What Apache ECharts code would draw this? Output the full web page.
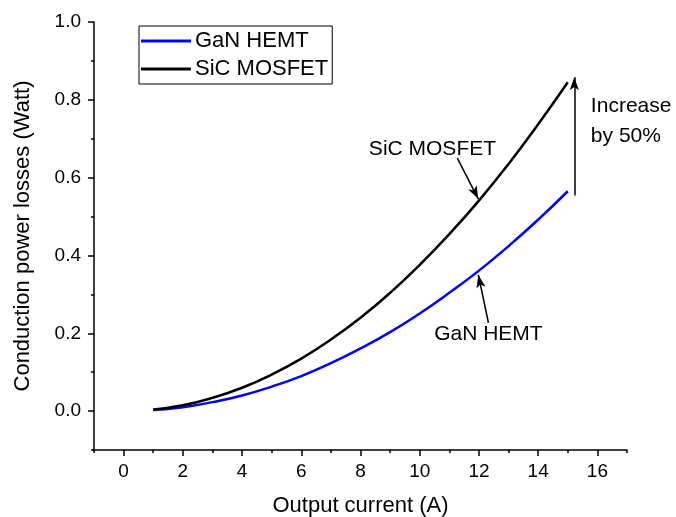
<!DOCTYPE html>
<html>
<head>
    <meta charset="utf-8"/>
    <script src="https://cdn.jsdelivr.net/npm/echarts@6/dist/echarts.min.js"></script>
</head>
<body style="margin:0">
<div id="main" style="width: 676px;height:517px;"></div>
<script type="text/javascript">
    // 数据：输出电流 vs 导通损耗
    var current = [1, 2, 3, 4, 5, 6, 7, 8, 9, 10, 11, 12, 13, 14, 15];
    var ganLoss = [0.003, 0.010, 0.023, 0.040, 0.063, 0.090, 0.123, 0.161, 0.203, 0.251, 0.304, 0.361, 0.424, 0.492, 0.565];
    var sicLoss = [0.004, 0.015, 0.034, 0.060, 0.094, 0.135, 0.184, 0.240, 0.304, 0.376, 0.455, 0.541, 0.635, 0.737, 0.845];
    var xLabels = [0, 2, 4, 6, 8, 10, 12, 14, 16];
    var yLabels = [0, 0.2, 0.4, 0.6, 0.8, 1.0];

    var font = 'Liberation Sans';

    function pairs(xs, ys) {
        return xs.map(function (x, i) { return [x, ys[i]]; });
    }

    var myChart = echarts.init(document.getElementById('main'));

    var option = {
        animation: false,
        textStyle: {fontFamily: font},
        grid: {left: 94, right: 49, top: 22, bottom: 67, outerBoundsMode: 'none'},
        legend: {
            left: 139, top: 26,
            orient: 'vertical',
            itemGap: 6,
            itemWidth: 50,
            itemHeight: 3,
            padding: [4, 4, 4, 2],
            borderColor: '#000',
            borderWidth: 1,
            textStyle: {fontSize: 22, color: '#000', fontFamily: font, padding: [0, 0, 0, -1]},
            data: [
                {name: 'GaN HEMT', icon: 'rect'},
                {name: 'SiC MOSFET', icon: 'rect'}
            ]
        },
        xAxis: [{
            type: 'value', min: -1, max: 17, interval: 1,
            name: 'Output current (A)', nameLocation: 'middle', nameGap: 45,
            nameTextStyle: {fontSize: 22, color: '#000', fontFamily: font},
            axisLine: {onZero: false, lineStyle: {color: '#000', width: 1.5}},
            axisTick: {length: 6, customValues: xLabels, lineStyle: {color: '#000', width: 1.5}},
            axisLabel: {customValues: xLabels, fontSize: 19, color: '#000', margin: 12},
            splitLine: {show: false}
        }, {
            type: 'value', min: -1, max: 17, interval: 1, position: 'bottom',
            axisLine: {show: false, onZero: false},
            axisTick: {length: 3, lineStyle: {color: '#000', width: 1.5}},
            axisLabel: {show: false},
            splitLine: {show: false}
        }],
        yAxis: [{
            type: 'value', min: -0.1, max: 1.0, interval: 0.1,
            name: 'Conduction power losses (Watt)', nameLocation: 'middle', nameGap: 60,
            nameTextStyle: {fontSize: 22, color: '#000', fontFamily: font},
            axisLine: {show: true, onZero: false, lineStyle: {color: '#000', width: 1.5}},
            axisTick: {show: true, length: 6, customValues: yLabels, lineStyle: {color: '#000', width: 1.5}},
            axisLabel: {
                customValues: yLabels, fontSize: 19, color: '#000', margin: 13,
                formatter: function (v) { return v.toFixed(1); }
            },
            splitLine: {show: false}
        }, {
            type: 'value', min: -0.1, max: 1.0, interval: 0.1, position: 'left',
            axisLine: {show: false, onZero: false},
            axisTick: {show: true, length: 3, lineStyle: {color: '#000', width: 1.5}},
            axisLabel: {show: false},
            splitLine: {show: false}
        }],
        series: [
            {
                name: 'GaN HEMT', type: 'line', smooth: true, symbol: 'none',
                color: '#0000ff', lineStyle: {width: 2.5},
                data: pairs(current, ganLoss),
                markLine: {
                    silent: true, symbol: ['none', 'arrow'], symbolSize: [7, 13],
                    label: {show: false},
                    lineStyle: {color: '#000', width: 1.5, type: 'solid'},
                    data: [
                        [{coord: [12.32, 0.227]}, {coord: [11.98, 0.350]}],
                        [{coord: [15.22, 0.554]}, {coord: [15.22, 0.858]}]
                    ]
                }
            },
            {
                name: 'SiC MOSFET', type: 'line', smooth: true, symbol: 'none',
                color: '#000000', lineStyle: {width: 2.5},
                data: pairs(current, sicLoss),
                markLine: {
                    silent: true, symbol: ['none', 'arrow'], symbolSize: [7, 13],
                    label: {show: false},
                    lineStyle: {color: '#000', width: 1.5, type: 'solid'},
                    data: [
                        [{coord: [11.27, 0.650]}, {coord: [11.98, 0.545]}]
                    ]
                }
            },
            {
                // 注释文字
                type: 'scatter', symbolSize: 0, silent: true,
                itemStyle: {opacity: 1},
                label: {
                    show: true, position: 'inside', fontSize: 21, color: '#000',
                    fontFamily: font,
                    formatter: function (p) { return p.data[2]; }
                },
                data: [
                    [10.43, 0.672, 'SiC MOSFET'],
                    [12.32, 0.197, 'GaN HEMT']
                ]
            },
            {
                type: 'scatter', symbolSize: 0, silent: true,
                itemStyle: {opacity: 1},
                label: {
                    show: true, position: 'right', distance: 0, fontSize: 21, color: '#000',
                    fontFamily: font, lineHeight: 30,
                    formatter: function (p) { return p.data[2]; }
                },
                data: [
                    [15.78, 0.745, 'Increase\nby 50%']
                ]
            }
        ]
    };

    myChart.setOption(option);
</script>
</body>
</html>
